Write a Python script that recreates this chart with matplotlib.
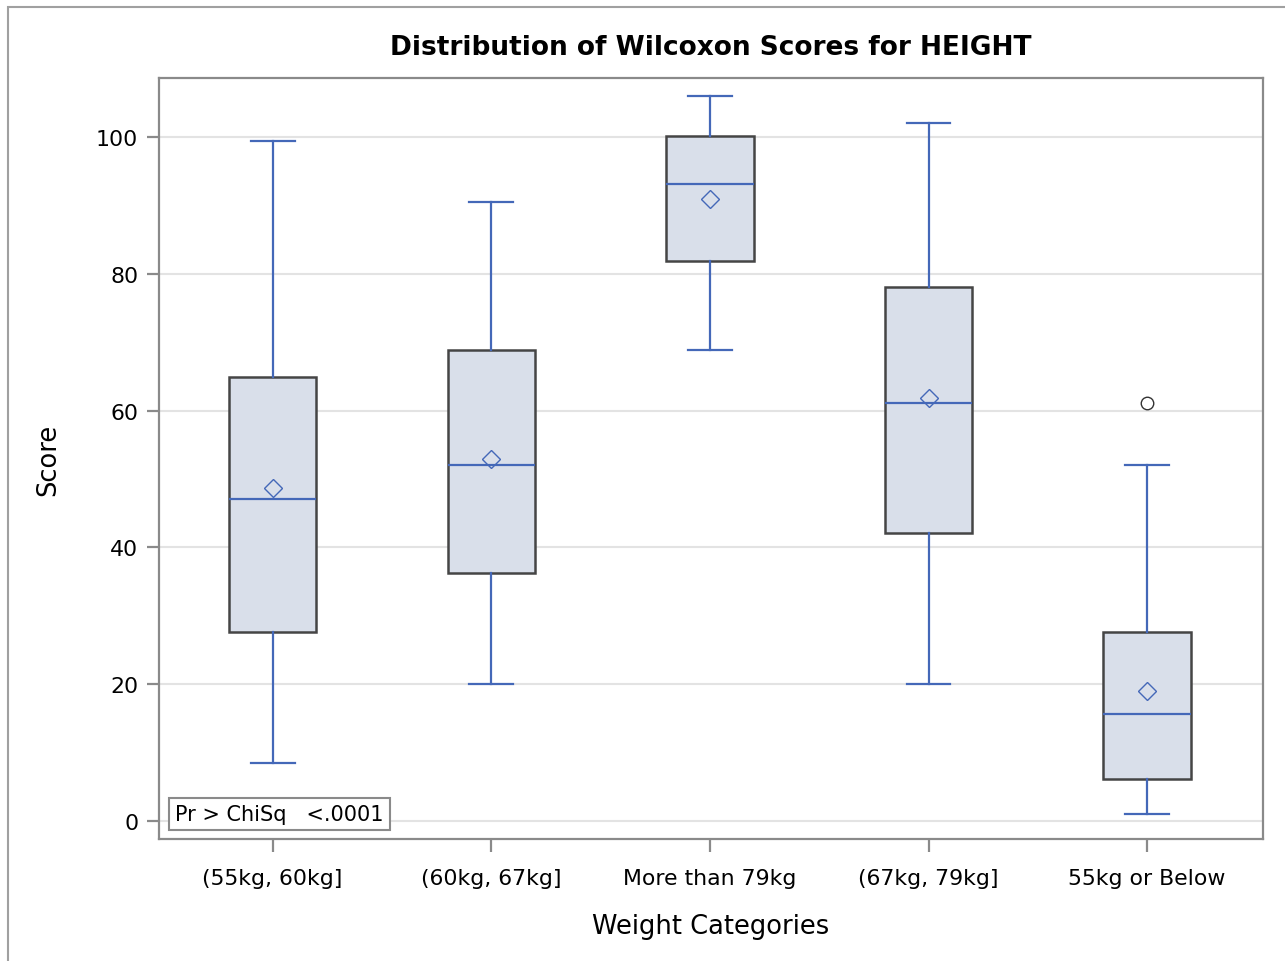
import matplotlib
matplotlib.use("Agg")
import matplotlib.pyplot as plt
from matplotlib.patches import Rectangle

categories = ["(55kg, 60kg]", "(60kg, 67kg]", "More than 79kg", "(67kg, 79kg]", "55kg or Below"]
whisker_low = [8.5, 20.0, 68.9, 20.0, 1.0]
q1 = [27.6, 36.3, 81.9, 42.1, 6.1]
median = [47.1, 52.0, 93.1, 61.1, 15.6]
q3 = [64.9, 68.9, 100.1, 78.1, 27.6]
whisker_high = [99.4, 90.5, 106.0, 102.0, 52.0]
means = [48.7, 52.9, 90.9, 61.8, 19.0]
outliers = [[], [], [], [], [61.1]]

W, H = 1285, 962
fig = plt.figure(figsize=(W / 100, H / 100), dpi=100)
ax = fig.add_axes([159 / W, 1 - 840 / H, (1263 - 159) / W, (840 - 79) / H])

# outer frame
fig.patches.append(Rectangle((8 / W, -0.05), 1.2, 1 - 8 / H + 0.05, transform=fig.transFigure,
                             fill=False, edgecolor="#a0a0a0", linewidth=1.5, zorder=0))

stats = []
for i in range(len(categories)):
    stats.append(dict(label=categories[i], whislo=whisker_low[i], q1=q1[i], med=median[i],
                      q3=q3[i], whishi=whisker_high[i], mean=means[i], fliers=outliers[i]))

blue = "#4468b8"
ax.bxp(stats, positions=range(len(categories)), widths=0.4, showmeans=True, patch_artist=True,
       boxprops=dict(facecolor="#d9dfea", edgecolor="#454545", linewidth=1.8),
       medianprops=dict(color=blue, linewidth=1.6),
       whiskerprops=dict(color=blue, linewidth=1.6),
       capprops=dict(color=blue, linewidth=1.6),
       capwidths=0.2,
       meanprops=dict(marker="D", markerfacecolor="none", markeredgecolor=blue, markersize=9, markeredgewidth=1.0),
       flierprops=dict(marker="o", markerfacecolor="none", markeredgecolor="#333333", markersize=9, markeredgewidth=1.0),
       zorder=3)

ax.set_xlim(-0.52, 4.53)
ax.set_ylim(-2.6, 108.6)
ax.set_yticks([0, 20, 40, 60, 80, 100])
ax.yaxis.grid(True, color="#e3e3e3", linewidth=1.5, zorder=0)
ax.set_axisbelow(True)
for s in ax.spines.values():
    s.set_color("#8a8a8a")
    s.set_linewidth(1.6)
ax.tick_params(axis="both", direction="out", length=9, width=1.6, color="#8a8a8a", labelsize=15.8, pad=6)
ax.tick_params(axis="x", pad=12)
ax.set_xticks(range(len(categories)))
ax.set_xticklabels(categories)
ax.set_xlabel("Weight Categories", fontsize=18.5, labelpad=18)
ax.set_ylabel("Score", fontsize=18.5, labelpad=25)
fig.text(711 / W, 1 - 48 / H, "Distribution of Wilcoxon Scores for HEIGHT", ha="center", va="center",
         fontsize=19, fontweight="bold")

ax.text(0.0145, 0.02, "Pr > ChiSq   <.0001", transform=ax.transAxes, fontsize=15,
        ha="left", va="bottom",
        bbox=dict(boxstyle="square,pad=0.3", facecolor="white", edgecolor="#8a8a8a", linewidth=1.5))

fig.savefig("out.png", dpi=100)
